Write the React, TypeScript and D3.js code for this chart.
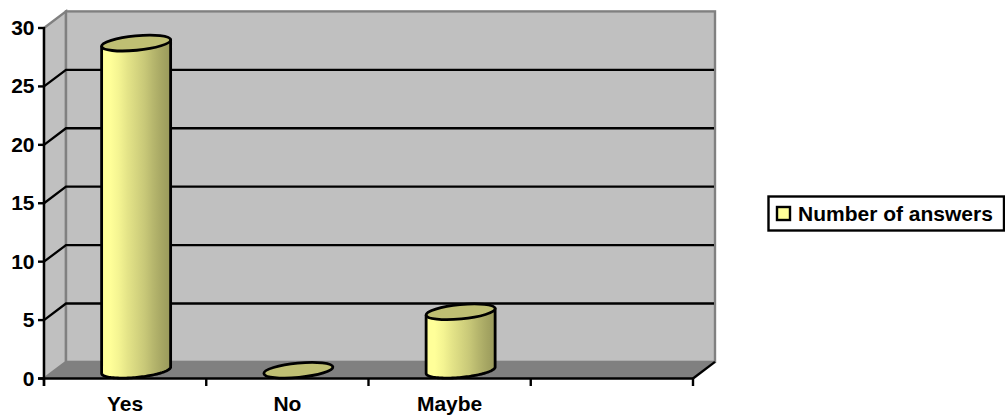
import React from "react";
import * as d3 from "d3";

const categories = ["Yes", "No", "Maybe", ""];
const answers = [28, 0, 5, null];
const yTicks = [0, 5, 10, 15, 20, 25, 30];
const seriesName = "Number of answers";
const barStops = ["#ffff99", "#ffff99", "#f4f492", "#e4e488", "#d6d680", "#c8c878", "#b6b66d", "#a6a663", "#99995b"];

const W = 1005, H = 416;
const left = 44, right = 693, bottom = 378.5, top = 28;
const dx = 22, dy = -16.6;
const font = "'Liberation Sans', Arial, sans-serif";
const labelSize = 21;

export default function App() {
  document.body.style.margin = "0";
  const x = d3.scaleBand<string>().domain(categories.map((c, i) => c || String(i))).range([left, right]);
  const y = d3.scaleLinear().domain([0, 30]).range([bottom, top]);
  const bw = 69, ry = 7.2, tilt = (-5.5 * Math.PI) / 180;
  const rx = bw / 2 / Math.cos(tilt);
  const floorY = bottom + dy / 2;
  const barY = (v: number) => y(v) + dy / 2;
  const xTicks = [...x.domain().map((d) => x(d) as number), right];
  const line = d3.line();
  const ellipsePt = (cx: number, cy: number, t: number): [number, number] => [
    cx + rx * Math.cos(t) * Math.cos(tilt) - ry * Math.sin(t) * Math.sin(tilt),
    cy + rx * Math.cos(t) * Math.sin(tilt) + ry * Math.sin(t) * Math.cos(tilt),
  ];
  const angles = d3.range(0, 61).map((i) => (i / 60) * Math.PI);

  return (
    <svg width={W} height={H} style={{ position: "absolute", left: 0, top: 0, display: "block" }} fontFamily={font}>
      <defs>
        <linearGradient id="cyl" x1="0" x2="1" y1="0" y2="0">
          {barStops.map((c, i) => (
            <stop key={i} offset={i / (barStops.length - 1)} stopColor={c} />
          ))}
        </linearGradient>
      </defs>
      {/* walls */}
      <polygon points={`${left},${top} ${left + dx},${top + dy} ${left + dx},${bottom + dy} ${left},${bottom}`} fill="#c0c0c0" stroke="#808080" strokeWidth={2.4} />
      <rect x={left + dx} y={top + dy} width={right - left} height={bottom - top} fill="#c0c0c0" stroke="#808080" strokeWidth={2.4} />
      <polygon points={`${left},${bottom} ${left + dx},${bottom + dy} ${right + dx},${bottom + dy} ${right},${bottom}`} fill="#808080" stroke="#808080" strokeWidth={1} />
      {/* gridlines */}
      {yTicks.filter((t) => t > 0 && t < 30).map((t) => (
        <polyline key={t} points={`${left},${y(t)} ${left + dx},${y(t) + dy} ${right + dx - 1},${y(t) + dy}`} fill="none" stroke="#000" strokeWidth={2.3} />
      ))}
      {/* axes */}
      <line x1={left} x2={left} y1={top - 1} y2={bottom + 7.5} stroke="#000" strokeWidth={2.4} />
      <line x1={left - 6} x2={right} y1={bottom} y2={bottom} stroke="#000" strokeWidth={2.4} />
      <line x1={right} x2={right + dx} y1={bottom} y2={bottom + dy} stroke="#000" strokeWidth={2.4} />
      {yTicks.map((t) => (
        <g key={t}>
          <line x1={left - 6} x2={left} y1={y(t)} y2={y(t)} stroke="#000" strokeWidth={2.4} />
          <text x={left - 9.5} y={y(t) + 7} textAnchor="end" fontSize={labelSize} fontWeight="bold" fill="#000">{t}</text>
        </g>
      ))}
      {xTicks.map((t) => (
        <line key={t} x1={t} x2={t} y1={bottom} y2={bottom + 7.5} stroke="#000" strokeWidth={2.4} />
      ))}
      {categories.map((c, i) => {
        const key = c || String(i);
        return (
          <text key={key} x={(x(key) as number) + x.bandwidth() / 2} y={410.5} textAnchor="middle" fontSize={labelSize} fontWeight="bold" fill="#000">{c}</text>
        );
      })}
      {/* cylinders */}
      {answers.map((v, i) => {
        if (v === null) return null;
        const key = categories[i] || String(i);
        const cx = (x(key) as number) + x.bandwidth() / 2 + dx / 2;
        const yTop = barY(v), yBase = floorY;
        const lowerEdge = angles.map((t) => ellipsePt(cx, yBase, t));
        const upperEdge = ellipsePt(cx, yTop, Math.PI);
        const upperRight = ellipsePt(cx, yTop, 0);
        const body = line([upperRight, ...lowerEdge, upperEdge]) + "Z";
        return (
          <g key={key}>
            {v > 0 && <path d={body} fill="url(#cyl)" stroke="#000" strokeWidth={2.8} strokeLinejoin="round" />}
            <ellipse cx={cx} cy={yTop} rx={rx} ry={ry} transform={`rotate(${(tilt * 180) / Math.PI} ${cx} ${yTop})`} fill="#bfbf73" stroke="#000" strokeWidth={2.8} />
          </g>
        );
      })}
      {/* legend */}
      <rect x={768.5} y={196.5} width={235.5} height={34} fill="#fff" stroke="#000" strokeWidth={2.4} />
      <rect x={777} y={207} width={13} height={13} fill="#ffff99" stroke="#000" strokeWidth={2.4} />
      <text x={798} y={220.5} fontSize={labelSize} fontWeight="bold" fill="#000">{seriesName}</text>
    </svg>
  );
}
